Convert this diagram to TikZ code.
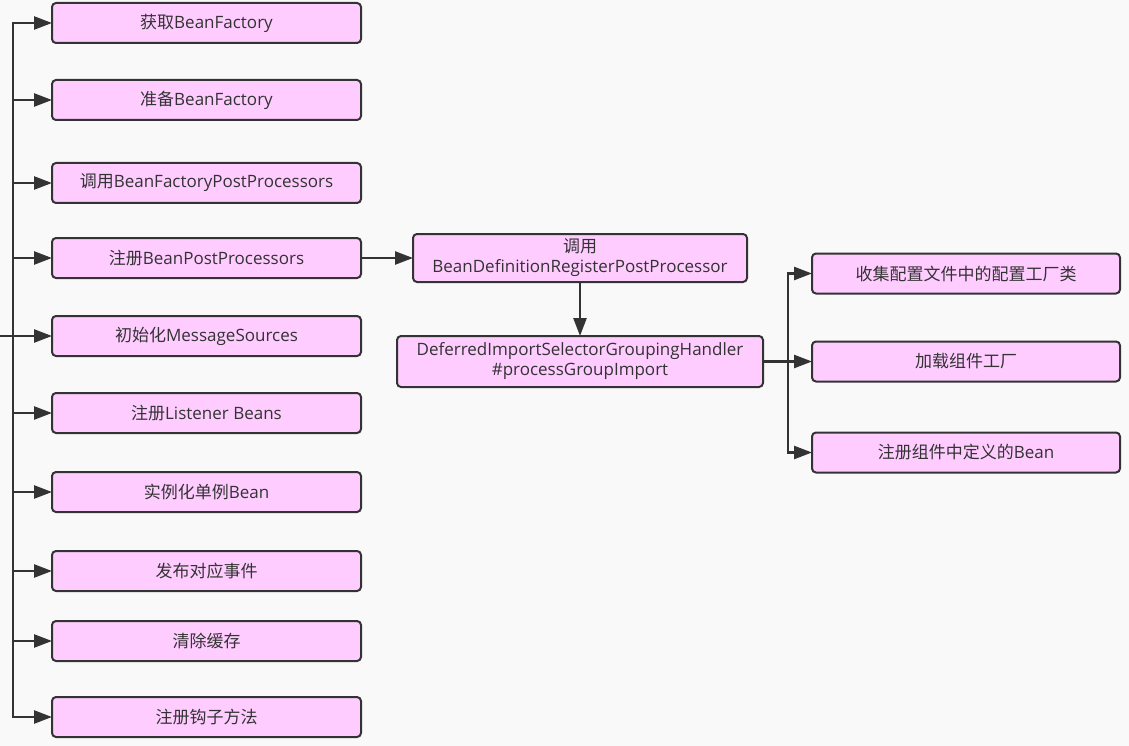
\documentclass[tikz,border=0pt]{standalone}
\usepackage{fontspec}
\setmainfont{Open Sans}
\newfontfamily\cjk{Noto Sans CJK SC}
\usepackage{tikz}
\usetikzlibrary{arrows.meta,positioning}
\definecolor{boxfill}{HTML}{FFCCFF}
\definecolor{boxline}{HTML}{333333}
\definecolor{bgcol}{HTML}{F9F9F9}

\begin{document}
\begin{tikzpicture}[
    x=1pt, y=-1pt,
    font=\fontsize{17pt}{20pt}\selectfont,
    stage/.style={rectangle, rounded corners=4pt, draw=boxline, line width=2pt, fill=boxfill, text=boxline, align=center, minimum width=309pt, minimum height=40pt, inner sep=2pt, outer sep=0pt},
    wide/.style={stage, minimum width=334pt, minimum height=48pt},
    arrow/.style={-{Triangle[length=18pt,width=13pt]}, line width=2.5pt, draw=boxline}
]
\fill[bgcol] (0,0) rectangle (1129,746);
\useasboundingbox (0,0) rectangle (1129,746);

% left column
\node[stage] (b1) at (206.5,23) {{\cjk 获取}BeanFactory};
\node[stage, below=37pt of b1] (b2) {{\cjk 准备}BeanFactory};
\node[stage, below=43pt of b2] (b3) {{\cjk 调用}BeanFactoryPostProcessors};
\node[stage, below=35pt of b3] (b4) {{\cjk 注册}BeanPostProcessors};
\node[stage, below=38pt of b4] (b5) {{\cjk 初始化}MessageSources};
\node[stage, below=37pt of b5] (b6) {{\cjk 注册}Listener Beans};
\node[stage, below=39pt of b6] (b7) {{\cjk 实例化单例}Bean};
\node[stage, below=39pt of b7] (b8) {\cjk 发布对应事件};
\node[stage, below=30pt of b8] (b9) {\cjk 清除缓存};
\node[stage, below=36pt of b9] (b10) {\cjk 注册钩子方法};

% middle column
\node[wide, right=52pt of b4] (m1) {{\cjk 调用}\\BeanDefinitionRegisterPostProcessor};
\node[wide, below=54pt of m1, minimum width=366pt, minimum height=51pt] (m2) {DeferredImportSelectorGroupingHandler\\\#processGroupImport};

% right column
\node[stage, right=49pt of m2, minimum width=308pt] (r2) {\cjk 加载组件工厂};
\node[stage, above=48pt of r2, minimum width=308pt] (r1) {\cjk 收集配置文件中的配置工厂类};
\node[stage, below=51pt of r2, minimum width=308pt] (r3) {{\cjk 注册组件中定义的}Bean};

\coordinate (in) at (0,336);
\coordinate (trunk) at (13,336);
\coordinate (fork) at ([xshift=25pt]m2.east);

\draw[line width=2.5pt, draw=boxline] (in) -- (trunk);
\draw[arrow] (trunk) |- (b1);
\draw[arrow] (trunk) |- (b2);
\draw[arrow] (trunk) |- (b3);
\draw[arrow] (trunk) |- (b4);
\draw[arrow] (trunk) |- (b5);
\draw[arrow] (trunk) |- (b6);
\draw[arrow] (trunk) |- (b7);
\draw[arrow] (trunk) |- (b8);
\draw[arrow] (trunk) |- (b9);
\draw[arrow] (trunk) |- (b10);

\draw[arrow] (b4) -- (m1);
\draw[arrow] (m1) -- (m2);

\draw[line width=2.5pt, draw=boxline] (m2.east) -- (fork);
\draw[arrow] (fork) |- (r1);
\draw[arrow] (fork) |- (r2);
\draw[arrow] (fork) |- (r3);
\end{tikzpicture}
\end{document}
